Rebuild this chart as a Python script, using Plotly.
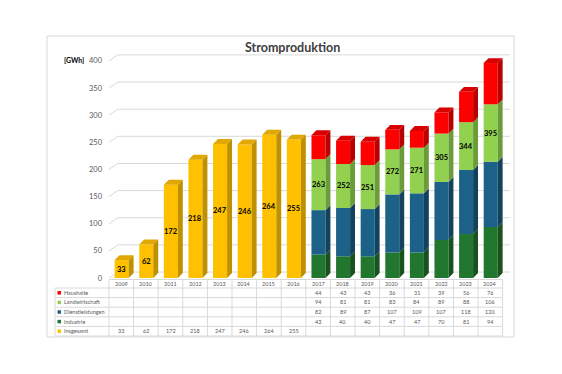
import plotly.graph_objects as go

# ---------------- data ----------------
years = [str(y) for y in range(2009, 2025)]
insgesamt = [33, 62, 172, 218, 247, 246, 264, 255]          # 2009-2016
haushalte = [44, 43, 43, 36, 31, 39, 56, 76]                # 2017-2024
landwirtschaft = [94, 81, 81, 83, 84, 89, 88, 106]
dienstleistungen = [82, 89, 87, 107, 109, 107, 118, 120]
industrie = [43, 40, 40, 47, 47, 70, 81, 94]
totals_late = [263, 252, 251, 272, 271, 305, 344, 395]
y_ticks = [0, 50, 100, 150, 200, 250, 300, 350, 400]
row_names = ["Haushalte", "Landwirtschaft", "Dienstleistungen", "Industrie", "Insgesamt"]

# ---------------- styling / geometry ----------------
W, H = 562, 374
L, R, T, B = 109, 52, 50, 96
PW, PH = W - L - R, H - T - B
XR = [-0.5, 15.8]
YR = [0, 420]
FACE_W, FACE_OFF = 0.57, -0.27
SDX, SDY = 0.2, 9          # bar depth (x units, y units)
GDX, GDY = 0.36, 11        # back-wall offset for gridlines
FONT = "Lato"

COL = {
    "Insgesamt": ("#FFC000", "#BF9000", "#E0A800"),
    "Haushalte": ("#FF0000", "#B80000", "#D80000"),
    "Landwirtschaft": ("#92D050", "#6A9C3A", "#7FB843"),
    "Dienstleistungen": ("#1C6187", "#12425D", "#185373"),
    "Industrie": ("#22772E", "#17521F", "#1C6526"),
}


def pxx(p):
    return (p - L) / PW


def pxy(p):
    return (H - B - p) / PH


x_early = list(range(0, 8))
x_late = list(range(8, 16))

fig = go.Figure()


def add_segments(name, xs, vals, bases, top=False):
    face, side, topc = COL[name]
    fig.add_trace(go.Bar(x=xs, y=vals, base=bases, width=FACE_W, offset=FACE_OFF,
                         marker=dict(color=face, line=dict(width=0)),
                         name=name, showlegend=False, hoverinfo="skip"))
    sx, sy = [], []
    for x, b, v in zip(xs, bases, vals):
        t = b + v
        x1 = x + FACE_OFF + FACE_W
        sx += [x1, x1 + SDX, x1 + SDX, x1, x1, None]
        sy += [b, b + SDY, t + SDY, t, b, None]
    fig.add_trace(go.Scatter(x=sx, y=sy, mode="lines", fill="toself", fillcolor=side,
                             line=dict(width=0, color=side), showlegend=False, hoverinfo="skip"))
    if top:
        tx, ty = [], []
        for x, b, v in zip(xs, bases, vals):
            t = b + v
            x0 = x + FACE_OFF
            x1 = x0 + FACE_W
            tx += [x0, x1, x1 + SDX, x0 + SDX, x0, None]
            ty += [t, t, t + SDY, t + SDY, t, None]
        fig.add_trace(go.Scatter(x=tx, y=ty, mode="lines", fill="toself", fillcolor=topc,
                                 line=dict(width=0, color=topc), showlegend=False, hoverinfo="skip"))


add_segments("Insgesamt", x_early, insgesamt, [0] * 8, top=True)
b1 = [0] * 8
b2 = [a + b for a, b in zip(b1, industrie)]
b3 = [a + b for a, b in zip(b2, dienstleistungen)]
b4 = [a + b for a, b in zip(b3, landwirtschaft)]
add_segments("Industrie", x_late, industrie, b1)
add_segments("Dienstleistungen", x_late, dienstleistungen, b2)
add_segments("Landwirtschaft", x_late, landwirtschaft, b3)
add_segments("Haushalte", x_late, haushalte, b4, top=True)

shapes = []
annotations = []

# back-wall gridlines
for v in y_ticks:
    shapes.append(dict(type="line", xref="x", yref="y", x0=XR[0], y0=v, x1=XR[0] + GDX, y1=v + GDY,
                       line=dict(color="#D9D9D9", width=1), layer="below"))
    shapes.append(dict(type="line", xref="x", yref="y", x0=XR[0] + GDX, y0=v + GDY, x1=XR[1], y1=v + GDY,
                       line=dict(color="#D9D9D9", width=1), layer="below"))

# bar value labels
lab_font = dict(family=FONT, size=7.5, color="#000000")
for x, v in zip(x_early, insgesamt):
    annotations.append(dict(x=x + FACE_OFF + FACE_W / 2, y=v / 2, xref="x", yref="y",
                            xanchor="center", yanchor="middle",
                            text="<b>%d</b>" % v, showarrow=False, font=lab_font))
for x, b, v, tot in zip(x_late, b3, landwirtschaft, totals_late):
    annotations.append(dict(x=x + FACE_OFF + FACE_W / 2, y=b + v / 2, xref="x", yref="y",
                            xanchor="center", yanchor="middle",
                            text="<b>%d</b>" % tot, showarrow=False, font=lab_font))

# title and unit
annotations.append(dict(x=pxx(292), y=pxy(48), xref="paper", yref="paper", text="<b>Stromproduktion</b>",
                        xanchor="center", yanchor="middle",
                        showarrow=False, font=dict(family=FONT, size=12.5, color="#404040")))
annotations.append(dict(x=pxx(86), y=pxy(60), xref="paper", yref="paper", text="<b>[GWh]</b>",
                        xanchor="right", yanchor="middle",
                        showarrow=False, font=dict(family=FONT, size=7, color="#000000")))

# data table
tbl_top, hdr_bot, row_h = 279.5, 288.0, 9.6
tbl_left = 55
tbl_right_paper = (16 - 0.5 - XR[0]) / (XR[1] - XR[0])
grid_c = "#D9D9D9"
tbl_font = dict(family=FONT, size=5.5, color="#595959")
shapes.append(dict(type="line", xref="paper", yref="paper", x0=0, x1=tbl_right_paper,
                   y0=pxy(tbl_top), y1=pxy(tbl_top), line=dict(color=grid_c, width=1)))
for r in range(6):
    yy = hdr_bot + r * row_h
    shapes.append(dict(type="line", xref="paper", yref="paper", x0=pxx(tbl_left), x1=tbl_right_paper,
                       y0=pxy(yy), y1=pxy(yy), line=dict(color=grid_c, width=1)))
shapes.append(dict(type="line", xref="paper", yref="paper", x0=pxx(tbl_left), x1=pxx(tbl_left),
                   y0=pxy(hdr_bot), y1=pxy(hdr_bot + 5 * row_h), line=dict(color=grid_c, width=1)))
for k in range(17):
    xp = (k - 0.5 - XR[0]) / (XR[1] - XR[0])
    shapes.append(dict(type="line", xref="paper", yref="paper", x0=xp, x1=xp,
                       y0=pxy(tbl_top), y1=pxy(hdr_bot + 5 * row_h), line=dict(color=grid_c, width=1)))

for i, yr in enumerate(years):
    annotations.append(dict(x=i, y=pxy((tbl_top + hdr_bot) / 2), xref="x", yref="paper", text=yr,
                            xanchor="center", yanchor="middle", showarrow=False, font=tbl_font))

rows_late = [haushalte, landwirtschaft, dienstleistungen, industrie]
for r, name in enumerate(row_names):
    yc = pxy(hdr_bot + (r + 0.5) * row_h)
    shapes.append(dict(type="rect", xref="paper", yref="paper",
                       x0=pxx(57.5), x1=pxx(61), y0=yc - 1.75 / PH, y1=yc + 1.75 / PH,
                       fillcolor=COL[name][0], line=dict(width=0)))
    annotations.append(dict(x=pxx(62), y=yc, xref="paper", yref="paper", text=name,
                            xanchor="left", yanchor="middle",
                            showarrow=False, font=tbl_font))
    vals_row = rows_late[r] if r < 4 else insgesamt
    xs_row = x_late if r < 4 else x_early
    for x, v in zip(xs_row, vals_row):
        annotations.append(dict(x=x, y=yc, xref="x", yref="paper", text=str(v),
                                xanchor="center", yanchor="middle",
                                showarrow=False, font=tbl_font))

# chart area border
shapes.append(dict(type="rect", xref="paper", yref="paper", x0=pxx(47), x1=pxx(514),
                   y0=pxy(337), y1=pxy(36), line=dict(color="#D9D9D9", width=1), layer="below"))

fig.update_layout(
    width=W, height=H,
    margin=dict(l=L, r=R, t=T, b=B, pad=0),
    paper_bgcolor="white", plot_bgcolor="rgba(0,0,0,0)",
    barmode="overlay", showlegend=False,
    xaxis=dict(range=XR, showgrid=False, zeroline=False, showticklabels=False, showline=False, fixedrange=True),
    yaxis=dict(range=YR, tickvals=y_ticks, ticktext=[str(v) for v in y_ticks], showgrid=False,
               zeroline=False, showline=False, ticks="", ticklabelstandoff=6,
               tickfont=dict(family=FONT, size=7.5, color="#595959"), fixedrange=True),
    shapes=shapes, annotations=annotations,
)

fig.write_html("out.html", config={"displayModeBar": False},
               post_script="document.body.style.margin='0px';document.body.style.overflow='hidden';")
